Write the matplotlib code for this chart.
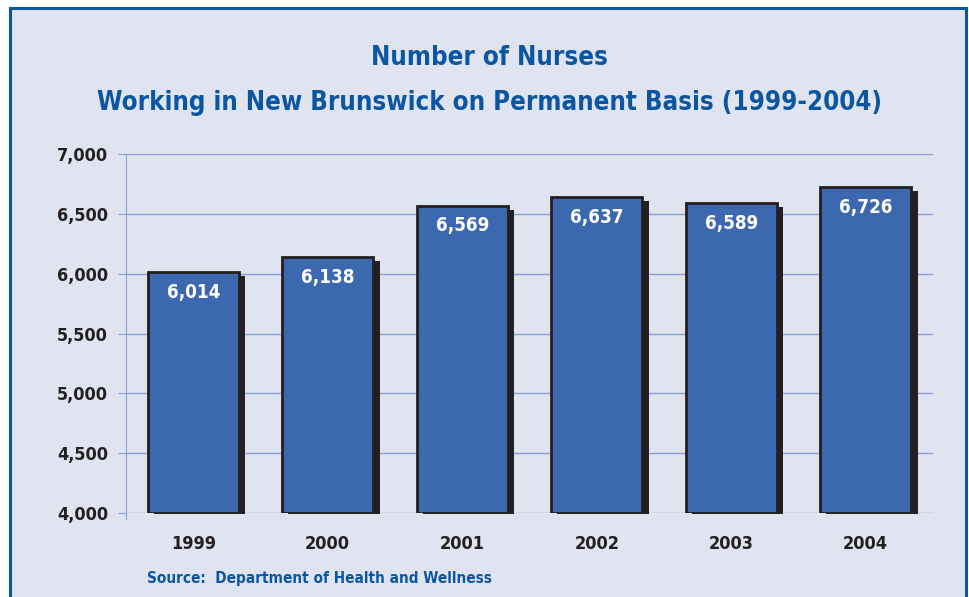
import numpy as np
import matplotlib
matplotlib.use("Agg")
import matplotlib.pyplot as plt
from matplotlib.patches import Rectangle

# data
years = ["1999", "2000", "2001", "2002", "2003", "2004"]
nurses = [6014, 6138, 6569, 6637, 6589, 6726]
y_ticks = [4000, 4500, 5000, 5500, 6000, 6500, 7000]

title_lines = ["Number of Nurses",
               "Working in New Brunswick on Permanent Basis (1999-2004)"]
source = "Source:  Department of Health and Wellness"

bg = "#e0e4f0"
blue_text = "#0a56a2"
bar_col = "#3b68ae"
dark = "#231f20"
grid_col = "#8b9fd2"
font = ["DejaVu Sans"]
stretch = "condensed"

fig = plt.figure(figsize=(9.69, 5.97), dpi=100)
fig.patch.set_facecolor("white")

# outer panel with blue frame
panel = Rectangle((10 / 969, -0.05), 956 / 969, 1.05 - 8 / 597,
                  transform=fig.transFigure, facecolor=bg,
                  edgecolor=blue_text, linewidth=2.2, zorder=-5)
fig.patches.append(panel)

ax = fig.add_axes([126 / 969, 1 - 513 / 597, 807 / 969, 359 / 597])
ax.set_facecolor("none")

x = np.arange(len(years))
w = 0.68

# shadow bars (offset right / down a little)
dx = 6.5 / 135
dy = 33
ax.bar(x + dx, np.array(nurses) - dy - 3990, width=w, bottom=3990,
       color=dark, zorder=2, clip_on=False)
ax.bar(x, np.array(nurses) - 4000, width=w, bottom=4000, color=bar_col,
       edgecolor=dark, linewidth=2, zorder=3)

for xi, v in zip(x, nurses):
    ax.text(xi, v - 170, f"{v:,}", ha="center", va="center", color="white",
            fontsize=13.5, fontweight="bold", family=font, stretch=stretch,
            zorder=4)

ax.set_xlim(-0.5, 5.5)
ax.set_ylim(4000, 7000)
ax.set_yticks(y_ticks)
ax.set_yticklabels([f"{t:,}" for t in y_ticks])
ax.set_xticks(x)
ax.set_xticklabels(years)
ax.yaxis.grid(True, color=grid_col, linewidth=1)
ax.set_axisbelow(True)

for s in ["top", "right", "bottom"]:
    ax.spines[s].set_visible(False)
ax.spines["left"].set_color(grid_col)
ax.spines["left"].set_bounds(3950, 7000)

ax.tick_params(axis="y", length=6, color=grid_col, pad=7)
ax.tick_params(axis="x", length=0, pad=16)
for lab in ax.get_xticklabels() + ax.get_yticklabels():
    lab.set_family(font)
    lab.set_stretch(stretch)
    lab.set_fontweight("bold")
    lab.set_fontsize(13)
    lab.set_color(dark)

fig.text(0.505, 1 - 58 / 597, title_lines[0], ha="center", va="center",
         color=blue_text, fontsize=18.5, fontweight="bold", family=font,
         stretch=stretch)
fig.text(0.505, 1 - 103 / 597, title_lines[1], ha="center", va="center",
         color=blue_text, fontsize=18.5, fontweight="bold", family=font,
         stretch=stretch)
fig.text(147 / 969, 1 - 578 / 597, source, ha="left", va="center",
         color=blue_text, fontsize=11, fontweight="bold", family=font,
         stretch=stretch)

fig.savefig("out.png", dpi=100)
